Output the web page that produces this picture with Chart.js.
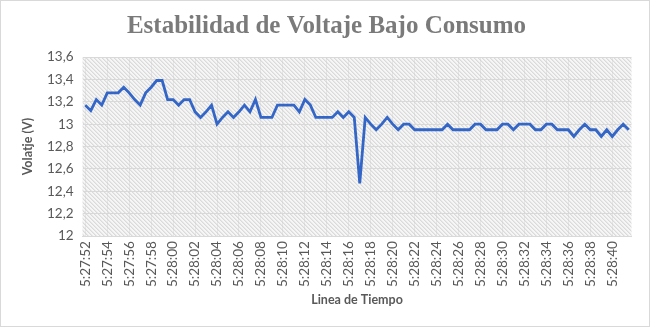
<!DOCTYPE html>
<html>
<head>
<meta charset="utf-8">
<script src="https://cdn.jsdelivr.net/npm/chart.js@4.4.1/dist/chart.umd.min.js"></script>
<style>
  body { margin: 0; background: #fff; }
  #wrap { width: 650px; height: 327px; }
</style>
</head>
<body>
<div id="wrap"><canvas id="grafico" width="650" height="327"></canvas></div>
<script>
// lecturas cada medio segundo
const tiempos = [
  '5:27:52','5:27:52','5:27:53','5:27:53','5:27:54','5:27:54','5:27:55','5:27:55','5:27:56','5:27:56',
  '5:27:57','5:27:57','5:27:58','5:27:58','5:27:59','5:27:59','5:28:00','5:28:00','5:28:01','5:28:01',
  '5:28:02','5:28:02','5:28:03','5:28:03','5:28:04','5:28:04','5:28:05','5:28:05','5:28:06','5:28:06',
  '5:28:07','5:28:07','5:28:08','5:28:08','5:28:09','5:28:09','5:28:10','5:28:10','5:28:11','5:28:11',
  '5:28:12','5:28:12','5:28:13','5:28:13','5:28:14','5:28:14','5:28:15','5:28:15','5:28:16','5:28:16',
  '5:28:17','5:28:17','5:28:18','5:28:18','5:28:19','5:28:19','5:28:20','5:28:20','5:28:21','5:28:21',
  '5:28:22','5:28:22','5:28:23','5:28:23','5:28:24','5:28:24','5:28:25','5:28:25','5:28:26','5:28:26',
  '5:28:27','5:28:27','5:28:28','5:28:28','5:28:29','5:28:29','5:28:30','5:28:30','5:28:31','5:28:31',
  '5:28:32','5:28:32','5:28:33','5:28:33','5:28:34','5:28:34','5:28:35','5:28:35','5:28:36','5:28:36',
  '5:28:37','5:28:37','5:28:38','5:28:38','5:28:39','5:28:39','5:28:40','5:28:40','5:28:41','5:28:41'
];

const voltaje = [
  13.17, 13.12, 13.22, 13.17, 13.28, 13.28, 13.28, 13.33, 13.28, 13.22,
  13.17, 13.28, 13.33, 13.39, 13.39, 13.22, 13.22, 13.17, 13.22, 13.22,
  13.11, 13.06, 13.11, 13.17, 13.00, 13.06, 13.11, 13.06, 13.11, 13.17,
  13.11, 13.22, 13.06, 13.06, 13.06, 13.17, 13.17, 13.17, 13.17, 13.11,
  13.22, 13.17, 13.06, 13.06, 13.06, 13.06, 13.11, 13.06, 13.11, 13.06,
  12.47, 13.06, 13.00, 12.95, 13.00, 13.06, 13.00, 12.95, 13.00, 13.00,
  12.95, 12.95, 12.95, 12.95, 12.95, 12.95, 13.00, 12.95, 12.95, 12.95,
  12.95, 13.00, 13.00, 12.95, 12.95, 12.95, 13.00, 13.00, 12.95, 13.00,
  13.00, 13.00, 12.95, 12.95, 13.00, 13.00, 12.95, 12.95, 12.95, 12.89,
  12.95, 13.00, 12.95, 12.95, 12.89, 12.95, 12.89, 12.95, 13.00, 12.95
];

const yMin = 12, yMax = 13.6, yPaso = 0.2;
const cadaEtiqueta = 4; // se muestra una etiqueta cada 2 s

const gris = '#595959';
const fuente = 'Lato, "Liberation Sans", sans-serif';

// trama diagonal del area de trazado
function crearTrama(ctx) {
  const c = document.createElement('canvas');
  c.width = 4; c.height = 4;
  const p = c.getContext('2d');
  p.fillStyle = '#f6f6f6';
  p.fillRect(0, 0, 4, 4);
  for (let i = 0; i < 4; i++) {
    p.fillStyle = '#dadada';
    p.fillRect(i, i, 1, 1);
    p.fillStyle = '#e8e8e8';
    p.fillRect((i + 1) % 4, i, 1, 1);
  }
  return ctx.createPattern(c, 'repeat');
}

const fondo = {
  id: 'fondo',
  beforeDraw(chart) {
    const { ctx, chartArea: a, width, height } = chart;
    ctx.save();
    ctx.fillStyle = '#fff';
    ctx.fillRect(0, 0, width, height);
    ctx.strokeStyle = '#d9d9d9';
    ctx.lineWidth = 1;
    ctx.strokeRect(0.5, 0.5, width - 1, height - 1);
    ctx.fillStyle = crearTrama(ctx);
    ctx.fillRect(a.left, a.top, a.right - a.left, a.bottom - a.top);
    ctx.restore();
  }
};

new Chart(document.getElementById('grafico').getContext('2d'), {
  type: 'line',
  data: {
    labels: tiempos,
    datasets: [{
      label: 'Voltaje',
      data: voltaje,
      borderColor: '#3366c6',
      borderWidth: 2.8,
      pointRadius: 0,
      tension: 0,
      fill: false
    }]
  },
  options: {
    responsive: false,
    animation: false,
    layout: { padding: { top: 8, left: 20, right: 17, bottom: 20 } },
    plugins: {
      legend: { display: false },
      tooltip: { enabled: false },
      title: {
        display: true,
        text: 'Estabilidad de Voltaje Bajo Consumo',
        color: '#7a7a7a',
        font: { family: '"Liberation Serif", serif', size: 25, weight: 'bold' },
        padding: { top: 4, bottom: 15 }
      }
    },
    scales: {
      x: {
        offset: true,
        border: { color: '#d9d9d9' },
        grid: {
          offset: false,
          drawTicks: false,
          color: c => c.index % cadaEtiqueta === 0 ? 'rgba(200,200,200,0.35)' : 'transparent'
        },
        ticks: {
          autoSkip: false,
          maxRotation: 90,
          minRotation: 90,
          padding: 5,
          color: gris,
          font: { family: fuente, size: 13.5 },
          callback: (v, i) => i % cadaEtiqueta === 0 ? tiempos[i] : ''
        },
        title: {
          display: true,
          text: 'Linea de Tiempo',
          color: gris,
          font: { family: fuente, size: 12.5, weight: 'bold' },
          padding: { top: 0, bottom: 0 }
        }
      },
      y: {
        min: yMin,
        max: yMax,
        border: { display: false },
        grid: { color: '#d9d9d9', drawTicks: false },
        ticks: {
          stepSize: yPaso,
          padding: 9,
          color: gris,
          font: { family: fuente, size: 13.5 },
          callback: v => String(Number(v.toFixed(1))).replace('.', ',')
        },
        title: {
          display: true,
          text: 'Volatje (V)',
          color: gris,
          font: { family: fuente, size: 12.5, weight: 'bold' },
          padding: { top: 0, bottom: 3 }
        }
      }
    }
  },
  plugins: [fondo]
});
</script>
</body>
</html>
